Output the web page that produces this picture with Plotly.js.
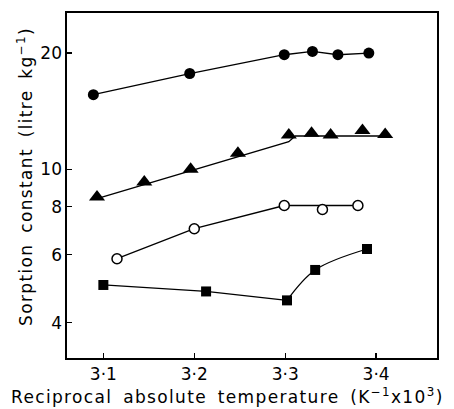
<!DOCTYPE html>
<html><head><meta charset="utf-8">
<script src="https://cdn.plot.ly/plotly-3.0.1.min.js"></script>
<style>html,body{margin:0;padding:0;background:#fff}#c{width:454px;height:409px}
.annotation-text{letter-spacing:1.35px;word-spacing:4px}
</style>
</head><body><div id="c"></div>
<script>
// Filled circles
const circX = [3.089, 3.195, 3.299, 3.330, 3.358, 3.392];
const circY = [15.6, 17.7, 19.8, 20.2, 19.8, 20.0];
// Filled triangles
const triX = [3.093, 3.145, 3.196, 3.248, 3.304, 3.329, 3.350, 3.385, 3.410];
const triY = [8.47, 9.27, 10.0, 10.99, 12.26, 12.4, 12.26, 12.6, 12.3];
const triCurveX = [3.093, 3.304, 3.311, 3.411];
const triCurveY = [8.39, 11.78, 12.19, 12.19];
// Open circles
const openX = [3.115, 3.200, 3.299, 3.341, 3.380];
const openY = [5.86, 7.01, 8.05, 7.86, 8.05];
const openCurveX = [3.115, 3.200, 3.299, 3.380];
const openCurveY = [5.86, 7.01, 8.05, 8.05];
// Filled squares
const sqX = [3.100, 3.213, 3.302, 3.333, 3.390];
const sqY = [5.01, 4.82, 4.57, 5.48, 6.21];
const sqStraightX = [3.100, 3.213, 3.302];
const sqStraightY = [5.01, 4.82, 4.57];
const sqCurveX = [3.302, 3.333, 3.390];
const sqCurveY = [4.57, 5.48, 6.21];

const xTicks = [3.1, 3.2, 3.3, 3.4];
const xTickText = ['3·1', '3·2', '3·3', '3·4'];
const yTicks = [4, 6, 8, 10, 20];
const yTickText = ['4', '6', '8', '10', '20'];
const xTitle = 'Reciprocal absolute temperature (K<sup>−1</sup>x10<sup>3</sup>)';
const yTitle = 'Sorption constant (litre kg<sup>−1</sup>)';

const K = '#000';
const traces = [
  {x: circX, y: circY, mode: 'lines+markers', line: {color: K, width: 1.3},
   marker: {symbol: 'circle', size: 11, color: K}},
  {x: triCurveX, y: triCurveY, mode: 'lines', line: {color: K, width: 1.3}},
  {x: triX, y: triY, mode: 'markers', marker: {symbol: 'triangle-up', size: 14, color: K}},
  {x: openCurveX, y: openCurveY, mode: 'lines', line: {color: K, width: 1.3}},
  {x: openX, y: openY, mode: 'markers',
   marker: {symbol: 'circle', size: 10, color: '#fff', line: {color: K, width: 1.5}}},
  {x: sqStraightX, y: sqStraightY, mode: 'lines', line: {color: K, width: 1.3}},
  {x: sqCurveX, y: sqCurveY, mode: 'lines', line: {color: K, width: 1.3, shape: 'spline', smoothing: 1}},
  {x: sqX, y: sqY, mode: 'markers', marker: {symbol: 'square', size: 10, color: K}}
];

const font = {family: 'DejaVu Sans, sans-serif', color: K, size: 16};
const layout = {
  width: 454, height: 409,
  margin: {l: 67, r: 17, t: 13, b: 51},
  paper_bgcolor: '#fff', plot_bgcolor: '#fff',
  showlegend: false,
  font: font,
  xaxis: {
    range: [3.060, 3.467], tickvals: xTicks, ticktext: xTickText,
    ticks: 'inside', ticklen: 5, tickwidth: 1.2, tickcolor: K,
    showline: true, linecolor: K, linewidth: 1.6, mirror: true,
    showgrid: false, zeroline: false, tickfont: {size: 17}
  },
  yaxis: {
    type: 'log', range: [Math.log10(3.24), Math.log10(25.4)],
    tickvals: yTicks, ticktext: yTickText,
    ticks: 'inside', ticklen: 5, tickwidth: 1.2, tickcolor: K,
    showline: true, linecolor: K, linewidth: 1.6, mirror: true,
    showgrid: false, zeroline: false, tickfont: {size: 17}
  },
  annotations: [
    {text: xTitle, xref: 'paper', yref: 'paper', x: 0.435, y: -0.11,
     xanchor: 'center', yanchor: 'middle', showarrow: false, font: {size: 17}},
    {text: yTitle, xref: 'paper', yref: 'paper', x: -0.1135, y: 0.525, textangle: -90,
     xanchor: 'center', yanchor: 'middle', showarrow: false, font: {size: 17}}
  ]
};
Plotly.newPlot('c', traces, layout, {displayModeBar: false, staticPlot: true});
</script></body></html>
